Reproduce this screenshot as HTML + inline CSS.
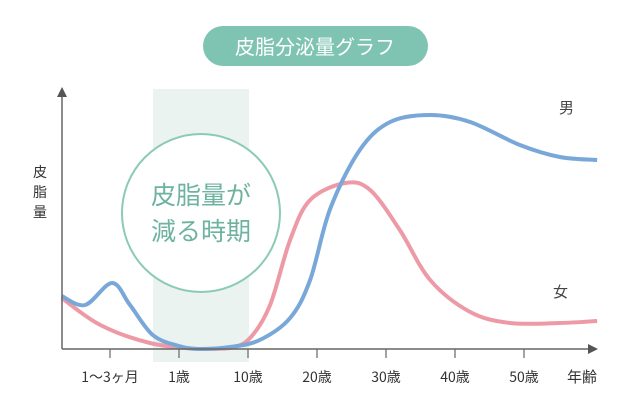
<!DOCTYPE html>
<html><head><meta charset="utf-8"><style>
body{margin:0;background:#fff;font-family:"Liberation Sans","Noto Sans CJK JP",sans-serif}
</style></head><body>
<svg width="631" height="415" xmlns="http://www.w3.org/2000/svg">
<rect x="203" y="26" width="225" height="40" rx="20" fill="#7fc4b3"/>
<text x="315" y="54" text-anchor="middle" font-size="20" fill="#fff" font-family="Noto Sans CJK JP,sans-serif">皮脂分泌量グラフ</text>
<rect x="153" y="89" width="96" height="273" fill="#eaf3ef"/>
<circle cx="201" cy="213" r="79" fill="#fff" stroke="#8ccab8" stroke-width="2"/>
<text x="201" y="204" text-anchor="middle" font-size="25" fill="#6db3a0" font-family="Noto Sans CJK JP,sans-serif">皮脂量が</text>
<text x="201" y="240" text-anchor="middle" font-size="25" fill="#6db3a0" font-family="Noto Sans CJK JP,sans-serif">減る時期</text>
<g id="curves"></g>
<line x1="62" y1="349" x2="590" y2="349" stroke="#666" stroke-width="1.5"/>
<polygon points="598,349 588,344 588,354" fill="#555"/>
<line x1="62" y1="349" x2="62" y2="96" stroke="#666" stroke-width="1.5"/>
<polygon points="62,87 57,97 67,97" fill="#555"/>
<g id="ticks"></g>
<g font-size="14" fill="#333" font-family="Noto Sans CJK JP,sans-serif">
<text x="40" y="177" text-anchor="middle">皮</text><text x="40" y="197" text-anchor="middle">脂</text><text x="40" y="217" text-anchor="middle">量</text></g>
<text x="559" y="113" font-size="15" fill="#444" font-family="Noto Sans CJK JP,sans-serif">男</text>
<text x="553" y="297" font-size="15" fill="#444" font-family="Noto Sans CJK JP,sans-serif">女</text>
<text x="582" y="382" text-anchor="middle" font-size="15" fill="#333" font-family="Noto Sans CJK JP,sans-serif">年齢</text>
</svg>
<script>
const tickLabels=["1〜3ヶ月","1歳","10歳","20歳","30歳","40歳","50歳"];
const maleT=[-0.7,-0.36,0.03,0.29,0.62,1.00,1.30,1.74,2.17,2.61,2.90,3.19,3.62,4.06,4.64,5.22,5.94,6.52,7.06];
const maleV=[53,44,66,44,14,3,0,2,9,31,69,140,199,227,234,227,204,192,189];
const femaleT=[-0.7,-0.14,0.58,1.30,1.74,2.03,2.32,2.61,2.90,3.41,3.77,4.20,4.64,5.22,5.80,6.52,7.06];
const femaleV=[51,24,6,0,1,11,44,109,149,166,159,119,69,37,26,26,28];
const sx=t=>110+t*69, sy=v=>349-v;
const NS="http://www.w3.org/2000/svg";
function pathFor(T,V){const p=T.map((t,i)=>[sx(t),sy(V[i])]);let d="M"+p[0][0]+","+p[0][1];
for(let i=0;i<p.length-1;i++){const a=p[Math.max(i-1,0)],b=p[i],c=p[i+1],e=p[Math.min(i+2,p.length-1)];
const y1=Math.min(349,b[1]+(c[1]-a[1])/6),y2=Math.min(349,c[1]-(e[1]-b[1])/6);
d+=` C${b[0]+(c[0]-a[0])/6},${y1} ${c[0]-(e[0]-b[0])/6},${y2} ${c[0]},${c[1]}`;}return d;}
const g=document.getElementById("curves");
const pf=document.createElementNS(NS,"path");


pf.setAttribute("d",pathFor(femaleT,femaleV));pf.setAttribute("fill","none");pf.setAttribute("stroke","#ee9aa6");pf.setAttribute("stroke-width","4");g.appendChild(pf);
const pm=document.createElementNS(NS,"path");


pm.setAttribute("d",pathFor(maleT,maleV));pm.setAttribute("fill","none");pm.setAttribute("stroke","#79a8d8");pm.setAttribute("stroke-width","4");g.appendChild(pm);
const tg=document.getElementById("ticks");
tickLabels.forEach((l,i)=>{const x=sx(i);
const ln=document.createElementNS(NS,"line");


ln.setAttribute("x1",x);ln.setAttribute("x2",x);ln.setAttribute("y1",349);ln.setAttribute("y2",358);ln.setAttribute("stroke","#666");ln.setAttribute("stroke-width","1.2");tg.appendChild(ln);
const tx=document.createElementNS(NS,"text");


tx.setAttribute("x",x);tx.setAttribute("y",382);tx.setAttribute("text-anchor","middle");tx.setAttribute("font-size","14");tx.setAttribute("fill","#333");tx.setAttribute("font-family","Noto Sans CJK JP,sans-serif");tx.textContent=l;tg.appendChild(tx);});
</script>
</body></html>
